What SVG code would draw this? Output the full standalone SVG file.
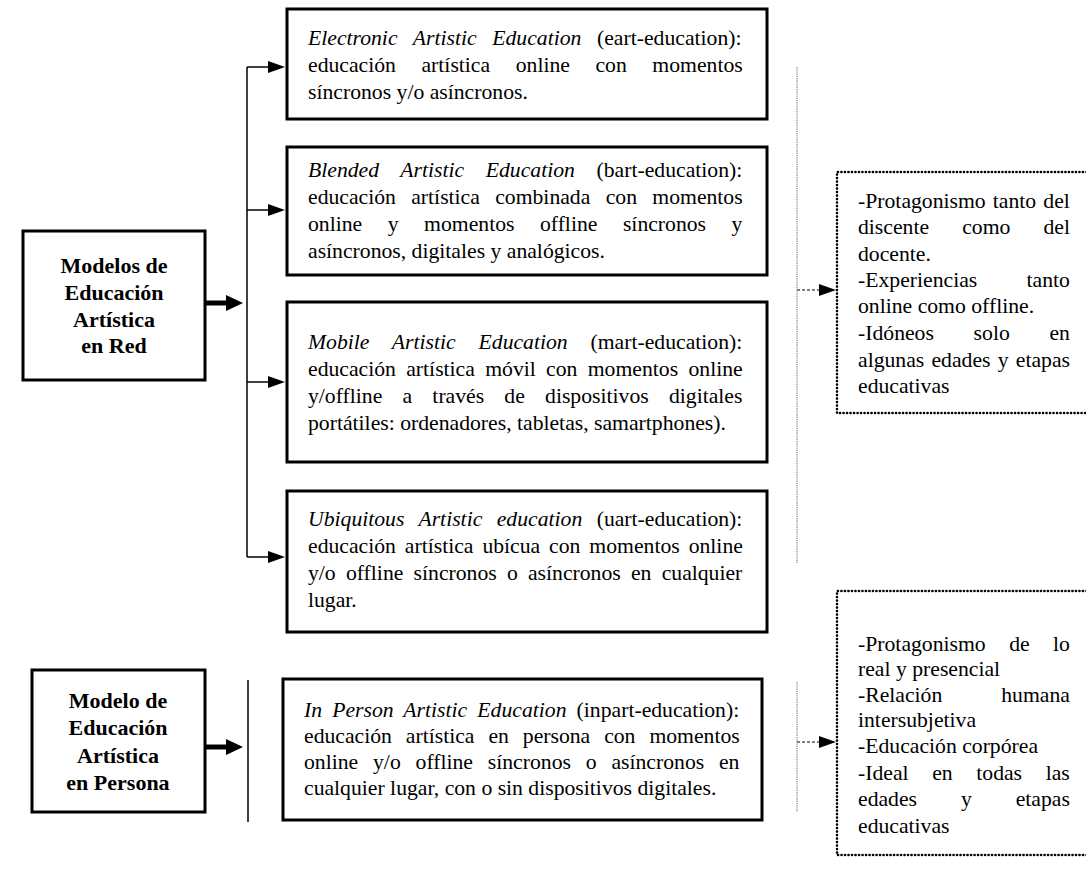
<svg xmlns="http://www.w3.org/2000/svg" width="1086" height="872" viewBox="0 0 1086 872">
<defs>
<style>
.box{fill:#fff;stroke:#000;stroke-width:3}
.dbox{fill:none;stroke:#000;stroke-width:2.6;stroke-dasharray:0.1 3.4;stroke-linecap:round}
.t{font-family:"Liberation Serif","Times New Roman",serif;font-size:21.7px;fill:#000}
.b{font-family:"Liberation Serif","Times New Roman",serif;font-size:22px;font-weight:bold;text-anchor:middle;fill:#000}
.i{font-style:italic}
.thin{stroke:#000;stroke-width:1.5;fill:none}
.thick{stroke:#000;stroke-width:5;fill:none}
.gline{stroke:#8a8a8a;stroke-width:1.3;stroke-dasharray:1.2 1;fill:none}
.gdash{stroke:#555;stroke-width:1.3;stroke-dasharray:3 2;fill:none}
</style>
<marker id="ah" markerUnits="userSpaceOnUse" markerWidth="18" markerHeight="14" refX="1" refY="7" orient="auto"><path d="M0,1 L17,7 L0,13 z" fill="#000"/></marker>
<marker id="ahT" markerUnits="userSpaceOnUse" markerWidth="18" markerHeight="18" refX="1" refY="9" orient="auto"><path d="M0,1 L17,9 L0,17 z" fill="#000"/></marker>
</defs>
<rect width="1086" height="872" fill="#fff"/>

<g id="connectors">
<line class="thick" x1="205" y1="303" x2="227" y2="303" marker-end="url(#ahT)"/>
<line class="thin" x1="247" y1="67" x2="247" y2="557"/>
<line class="thin" x1="247" y1="67" x2="269" y2="67" marker-end="url(#ah)"/>
<line class="thin" x1="247" y1="210" x2="269" y2="210" marker-end="url(#ah)"/>
<line class="thin" x1="247" y1="382" x2="269" y2="382" marker-end="url(#ah)"/>
<line class="thin" x1="247" y1="557" x2="269" y2="557" marker-end="url(#ah)"/>
<line class="thick" x1="205" y1="747" x2="227" y2="747" marker-end="url(#ahT)"/>
<line class="thin" x1="248" y1="680" x2="248" y2="822"/>
<line class="gline" x1="797" y1="67" x2="797" y2="563"/>
<line class="gdash" x1="797" y1="290" x2="820" y2="290" marker-end="url(#ah)"/>
<line class="gline" x1="797" y1="682" x2="797" y2="812"/>
<line class="gdash" x1="797" y1="742" x2="820" y2="742" marker-end="url(#ah)"/>
</g>

<g id="red">
<rect class="box" x="23" y="231" width="182" height="149"/>
<text class="b" x="114" y="273">Modelos de</text>
<text class="b" x="114" y="300">Educación</text>
<text class="b" x="114" y="327">Artística</text>
<text class="b" x="114" y="353">en Red</text>
</g>

<g id="persona">
<rect class="box" x="32" y="670" width="173" height="142"/>
<text class="b" x="118" y="708">Modelo de</text>
<text class="b" x="118" y="735">Educación</text>
<text class="b" x="118" y="763">Artística</text>
<text class="b" x="118" y="790">en Persona</text>
</g>

<g id="eart">
<rect class="box" x="287" y="9" width="480" height="110"/>
<text class="t" x="308" y="45" word-spacing="10.2"><tspan class="i">Electronic Artistic Education</tspan> (eart-education):</text>
<text class="t" x="308" y="72" word-spacing="20.15">educación artística online con momentos</text>
<text class="t" x="308" y="99">síncronos y/o asíncronos.</text>
</g>

<g id="bart">
<rect class="box" x="287" y="147" width="480" height="128"/>
<text class="t" x="308" y="177" word-spacing="16.2"><tspan class="i">Blended Artistic Education</tspan> (bart-education):</text>
<text class="t" x="308" y="204" word-spacing="9.9">educación artística combinada con momentos</text>
<text class="t" x="308" y="231" word-spacing="20.1">online y momentos offline síncronos y</text>
<text class="t" x="308" y="258">asíncronos, digitales y analógicos.</text>
</g>

<g id="mart">
<rect class="box" x="287" y="302" width="480" height="160"/>
<text class="t" x="308" y="349" word-spacing="17.4"><tspan class="i">Mobile Artistic Education</tspan> (mart-education):</text>
<text class="t" x="308" y="376" word-spacing="4.9">educación artística móvil con momentos online</text>
<text class="t" x="308" y="403" word-spacing="14.8">y/offline a través de dispositivos digitales</text>
<text class="t" x="308" y="430">portátiles: ordenadores, tabletas, samartphones).</text>
</g>

<g id="uart">
<rect class="box" x="287" y="491" width="480" height="141"/>
<text class="t" x="308" y="526" word-spacing="9.0"><tspan class="i">Ubiquitous Artistic education</tspan> (uart-education):</text>
<text class="t" x="308" y="553" word-spacing="3.5">educación artística ubícua con momentos online</text>
<text class="t" x="308" y="580" word-spacing="4.8">y/o offline síncronos o asíncronos en cualquier</text>
<text class="t" x="308" y="607">lugar.</text>
</g>

<g id="inpart">
<rect class="box" x="283" y="679" width="479" height="141"/>
<text class="t" x="304" y="717" word-spacing="4.7"><tspan class="i">In Person Artistic Education</tspan> (inpart-education):</text>
<text class="t" x="304" y="743" word-spacing="8.5">educación artística en persona con momentos</text>
<text class="t" x="304" y="769" word-spacing="9.4">online y/o offline síncronos o asíncronos en</text>
<text class="t" x="304" y="795">cualquier lugar, con o sin dispositivos digitales.</text>
</g>

<g id="notas-red">
<path class="dbox" d="M1090,172 L837,172 L837,413 L1090,413"/>
<text class="t" x="858" y="208" word-spacing="1.7">-Protagonismo tanto del</text>
<text class="t" x="858" y="234" word-spacing="27.7">discente como del</text>
<text class="t" x="858" y="261">docente.</text>
<text class="t" x="858" y="287" word-spacing="43.9">-Experiencias tanto</text>
<text class="t" x="858" y="313">online como offline.</text>
<text class="t" x="858" y="340" word-spacing="34.3">-Idóneos solo en</text>
<text class="t" x="858" y="367" word-spacing="1.8">algunas edades y etapas</text>
<text class="t" x="858" y="393">educativas</text>
</g>

<g id="notas-persona">
<path class="dbox" d="M1090,591 L837,591 L837,855 L1090,855"/>
<text class="t" x="858" y="651" word-spacing="18.0">-Protagonismo de lo</text>
<text class="t" x="858" y="676">real y presencial</text>
<text class="t" x="858" y="702" word-spacing="53.5">-Relación humana</text>
<text class="t" x="858" y="727">intersubjetiva</text>
<text class="t" x="858" y="753">-Educación corpórea</text>
<text class="t" x="858" y="780" word-spacing="18.2">-Ideal en todas las</text>
<text class="t" x="858" y="806" word-spacing="38.5">edades y etapas</text>
<text class="t" x="858" y="833">educativas</text>
</g>
</svg>
